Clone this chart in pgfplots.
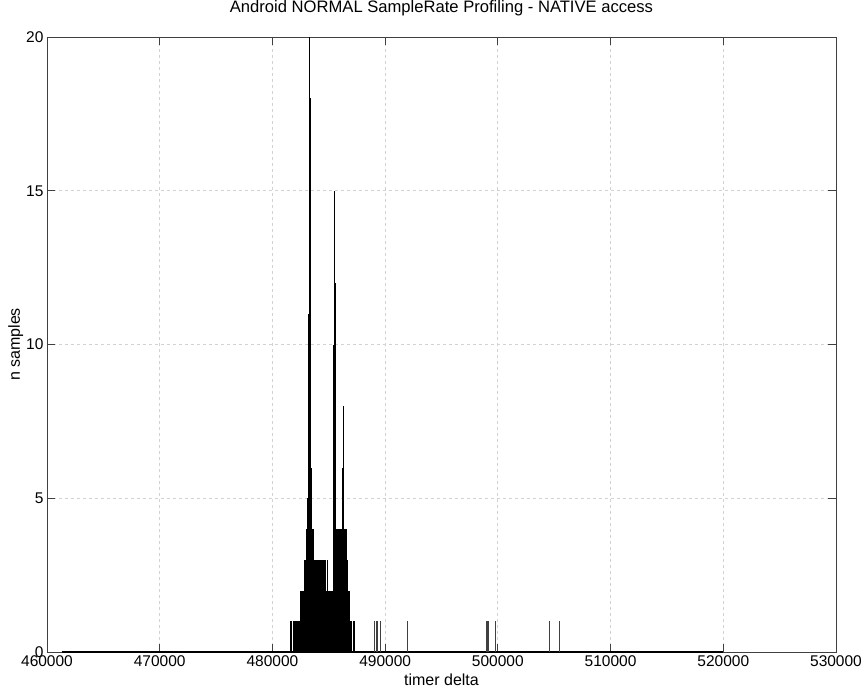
\documentclass[border=0pt]{standalone}
\usepackage{pgfplots}
\pgfplotsset{compat=1.18}
\usepackage{pgfplotstable}
\usepackage{fontspec}
\setmainfont{Liberation Sans}

\pgfplotstableread{
x y
481600 1
481650 1
481850 1
481950 1
482050 1
482100 1
482140 1
482180 1
482220 1
482260 1
482300 1
482340 1
482380 1
482420 1
482460 1
482500 2
482540 2
482580 2
482620 2
482660 2
482700 2
482740 2
482780 2
482820 3
482860 3
482900 3
482940 3
482980 3
483020 3
483060 4
483100 4
483140 5
483180 7
483220 11
483260 17
483300 20
483340 18
483380 16
483420 13
483460 6
483500 5
483540 4
483580 4
483620 4
483660 3
483700 3
483740 3
483780 3
483820 3
483860 3
483900 3
483940 3
483980 3
484020 2
484060 3
484100 2
484140 2
484180 3
484220 2
484260 2
484300 3
484340 2
484380 3
484420 3
484460 2
484500 2
484540 3
484580 3
484620 2
484660 2
484700 3
484740 3
484780 2
484820 2
484860 3
484900 3
484940 2
484980 2
485020 2
485060 2
485100 2
485140 2
485180 2
485220 2
485260 2
485300 2
485340 2
485380 3
485420 10
485460 6
485500 4
485540 15
485580 12
485620 4
485660 4
485700 4
485740 4
485780 4
485820 4
485860 3
485900 3
485940 3
485980 4
486020 4
486060 4
486100 4
486140 4
486180 4
486220 4
486260 6
486300 8
486340 6
486380 4
486420 4
486460 4
486500 4
486540 4
486580 4
486620 3
486660 3
486700 3
486740 2
486780 2
486820 2
486860 2
486900 1
486940 1
486980 1
487020 1
487150 1
487280 1
}\clusterdata

\pgfplotstableread{
x y
489100 1
489200 1
489350 1
489550 1
491975 1
498950 1
499050 1
499200 1
499830 1
504620 1
505450 1
}\isolated

\begin{document}
\begin{tikzpicture}
\useasboundingbox (-47pt,-42pt) rectangle (815pt,652pt);
\begin{axis}[
  scale only axis,
  width=789pt, height=615pt,
  at={(0,0)}, anchor=south west,
  xmin=460000, xmax=530000,
  ymin=0, ymax=20,
  xtick={460000,470000,480000,490000,500000,510000,520000,530000},
  ytick={0,5,10,15,20},
  /pgf/number format/assume math mode=true,
  xticklabel style={/pgf/number format/fixed, /pgf/number format/1000 sep={}},
  scaled x ticks=false,
  tick label style={font=\fontsize{15.5}{18}\selectfont},
  grid=major,
  grid style={dashed, gray!35, line width=0.8pt},
  axis line style={black!75, line width=0.8pt},
  major tick length=8pt,
  tick style={black!75, line width=0.8pt},
  title={Android NORMAL SampleRate Profiling - NATIVE access},
  title style={at={(axis description cs:0.5,1)}, anchor=south, inner sep=0pt, yshift=15pt, font=\fontsize{16.6}{19}\selectfont},
  xlabel={timer delta},
  xlabel style={at={(axis description cs:0.5,0)}, anchor=north, inner sep=0pt, yshift=-22pt, font=\fontsize{16}{19}\selectfont},
  ylabel={n samples},
  ylabel style={at={(axis description cs:-0.030,0.5)}, anchor=south, inner sep=0pt, font=\fontsize{16}{19}\selectfont},
]
\addplot[black, line width=2pt] coordinates {(461300,0) (520000,0)};
\addplot[ycomb, black, line width=1pt, mark=none] table[x=x, y=y] {\clusterdata};
\addplot[ycomb, black!75, line width=1pt, mark=none] table[x=x, y=y] {\isolated};
\end{axis}
\end{tikzpicture}
\end{document}
